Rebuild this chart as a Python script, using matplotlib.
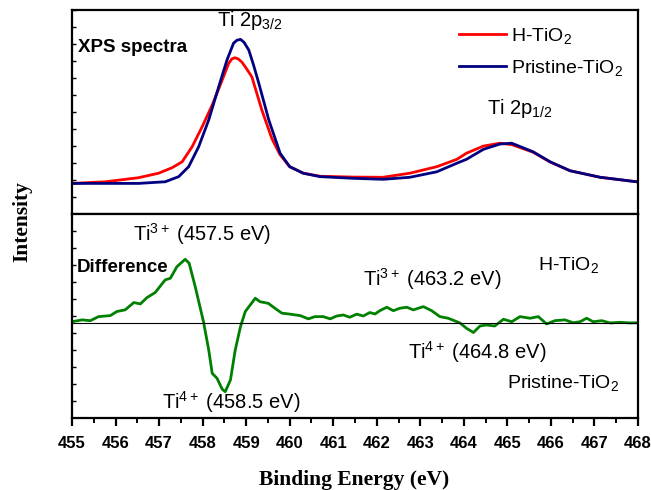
import matplotlib
matplotlib.use("Agg")
import matplotlib.pyplot as plt
from matplotlib.ticker import MultipleLocator

plt.rcParams['font.family'] = ['Liberation Sans', 'DejaVu Sans']
plt.rcParams['mathtext.fontset'] = 'custom'
plt.rcParams['mathtext.rm'] = 'Liberation Sans'
plt.rcParams['mathtext.it'] = 'Liberation Sans:italic'
plt.rcParams['mathtext.bf'] = 'Liberation Sans:bold'

# ---------------- data (arbitrary units) ----------------
e_red = [455.0, 455.77, 456.53, 456.99, 457.30, 457.53, 457.76, 457.99, 458.22,
         458.45, 458.60, 458.67, 458.74, 458.82, 458.90, 459.0, 459.13, 459.36,
         459.59, 459.78, 460.0, 460.31, 460.70, 461.45, 462.14, 462.76, 463.38,
         463.84, 464.06, 464.45, 464.83, 465.10, 465.59, 465.98, 466.44, 467.13,
         467.97]
i_red = [0.150, 0.158, 0.178, 0.200, 0.227, 0.256, 0.330, 0.428, 0.534,
         0.657, 0.739, 0.760, 0.766, 0.760, 0.745, 0.715, 0.673, 0.510,
         0.370, 0.290, 0.232, 0.200, 0.185, 0.181, 0.180, 0.200, 0.232,
         0.268, 0.298, 0.333, 0.347, 0.340, 0.303, 0.255, 0.212, 0.180,
         0.158]

e_blue = [455.0, 456.53, 457.14, 457.45, 457.68, 457.91, 458.14, 458.37, 458.56,
          458.71, 458.79, 458.87, 458.95, 459.06, 459.17, 459.29, 459.52, 459.78,
          460.0, 460.31, 460.70, 461.45, 462.14, 462.76, 463.38, 463.84, 464.06,
          464.45, 464.83, 465.10, 465.59, 465.98, 466.44, 467.13, 467.97]
i_blue = [0.150, 0.150, 0.158, 0.183, 0.232, 0.330, 0.461, 0.624, 0.755,
          0.837, 0.852, 0.856, 0.842, 0.804, 0.730, 0.641, 0.461, 0.298,
          0.232, 0.200, 0.183, 0.175, 0.170, 0.180, 0.207, 0.249, 0.268,
          0.317, 0.343, 0.347, 0.305, 0.256, 0.212, 0.180, 0.158]

e_diff = [455.0, 455.23, 455.42, 455.61, 455.88, 456.03, 456.22, 456.42, 456.57,
          456.72, 456.91, 457.14, 457.26, 457.41, 457.60, 457.69, 457.83, 458.02,
          458.14, 458.22, 458.33, 458.45, 458.52, 458.64, 458.75, 458.87, 458.98,
          459.21, 459.32, 459.51, 459.66, 459.82, 460.01, 460.24, 460.43, 460.58,
          460.77, 460.93, 461.08, 461.23, 461.38, 461.54, 461.69, 461.84, 461.96,
          462.07, 462.23, 462.38, 462.53, 462.69, 462.84, 463.07, 463.26, 463.45,
          463.64, 463.91, 464.06, 464.22, 464.37, 464.52, 464.71, 464.91, 465.10,
          465.29, 465.52, 465.71, 465.90, 466.09, 466.32, 466.51, 466.67, 466.82,
          466.97, 467.17, 467.36, 467.59, 467.82, 468.0]
i_diff = [0.006, 0.015, 0.011, 0.031, 0.036, 0.056, 0.064, 0.100, 0.093,
          0.124, 0.149, 0.211, 0.219, 0.276, 0.312, 0.293, 0.178, 0.006,
          -0.132, -0.247, -0.271, -0.325, -0.337, -0.279, -0.132, -0.018, 0.056,
          0.121, 0.104, 0.096, 0.072, 0.048, 0.043, 0.036, 0.020, 0.031,
          0.031, 0.020, 0.034, 0.039, 0.028, 0.043, 0.034, 0.051, 0.044,
          0.060, 0.077, 0.060, 0.072, 0.077, 0.064, 0.080, 0.060, 0.031,
          0.023, 0.000, -0.026, -0.047, -0.015, -0.010, -0.015, 0.018, 0.006,
          0.031, 0.023, 0.031, -0.005, 0.011, 0.015, 0.001, 0.006, 0.023,
          0.006, 0.011, 0.000, 0.003, 0.000, 0.001]

x_ticks = list(range(455, 469))
x_ticklabels = [str(v) for v in x_ticks]

# ---------------- figure ----------------
W, H = 651, 490
fig = plt.figure(figsize=(W / 100, H / 100), dpi=100)

def fx(px):
    return px / W

def fy(py):
    return 1 - py / H

left, right = fx(72), fx(638)
top, mid, bot = fy(10), fy(214), fy(418)

ax1 = fig.add_axes([left, mid, right - left, top - mid])
ax2 = fig.add_axes([left, bot, right - left, mid - bot])

lw_sp = 1.6
for ax in (ax1, ax2):
    ax.set_xlim(455, 468)
    for s in ax.spines.values():
        s.set_linewidth(lw_sp)

ax1.plot(e_red, i_red, color='#ff0000', lw=2.0, label='H-TiO$_2$')
ax1.plot(e_blue, i_blue, color='#000080', lw=2.0, label='Pristine-TiO$_2$')
ax1.set_ylim(0, 1)
ax1.set_xticks([])
ax1.yaxis.set_major_locator(MultipleLocator(1 / 12))
ax1.tick_params(axis='y', direction='in', length=3, width=1.0, labelleft=False)

ax2.plot(e_diff, i_diff, color='#008000', lw=2.0)
ax2.axhline(0, color='black', lw=0.8)
ax2.set_ylim(-0.466, 0.534)
ax2.set_yticks([-0.466 + k / 12 for k in range(1, 12)])
ax2.tick_params(axis='y', direction='in', length=3, width=1.0, labelleft=False)
ax2.set_xticks(x_ticks)
ax2.set_xticklabels(x_ticklabels)
ax2.xaxis.set_minor_locator(MultipleLocator(0.5))
ax2.tick_params(axis='x', which='major', direction='out', length=6, width=1.6, pad=7)
ax2.tick_params(axis='x', which='minor', direction='out', length=3.5, width=1.4)
for lab in ax2.get_xticklabels():
    lab.set_fontweight('bold')
    lab.set_fontsize(12)

leg = ax1.legend(loc='upper left', bbox_to_anchor=(fx(459), fy(26)),
                 bbox_transform=fig.transFigure, frameon=False, fontsize=14,
                 handlelength=2.4, handletextpad=0.25, labelspacing=0.6, borderaxespad=0,
                 borderpad=0)

fs = 14.5
fb = 13.5
fig.text(fx(78), fy(48), 'XPS spectra', fontsize=fb, fontweight='bold', va='center', ha='left')
fig.text(fx(250), fy(21), 'Ti 2p$_{3/2}$', fontsize=fs, va='center', ha='center')
fig.text(fx(520), fy(109), 'Ti 2p$_{1/2}$', fontsize=fs, va='center', ha='center')
fig.text(fx(133), fy(234), 'Ti$^{3+}$ (457.5 eV)', fontsize=fs, va='center', ha='left')
fig.text(fx(77), fy(268), 'Difference', fontsize=fb, fontweight='bold', va='center', ha='left')
fig.text(fx(363), fy(279), 'Ti$^{3+}$ (463.2 eV)', fontsize=fs, va='center', ha='left')
fig.text(fx(538), fy(265), 'H-TiO$_2$', fontsize=14, va='center', ha='left')
fig.text(fx(408), fy(352), 'Ti$^{4+}$ (464.8 eV)', fontsize=fs, va='center', ha='left')
fig.text(fx(507), fy(383), 'Pristine-TiO$_2$', fontsize=14, va='center', ha='left')
fig.text(fx(162), fy(402), 'Ti$^{4+}$ (458.5 eV)', fontsize=fs, va='center', ha='left')

fig.text(fx(354), fy(480), 'Binding Energy (eV)', fontsize=15.5, fontweight='bold',
         family=['Liberation Serif', 'DejaVu Serif'], ha='center', va='center')
fig.text(fx(22), fy(222), 'Intensity', fontsize=15.5, fontweight='bold', rotation=90,
         family=['Liberation Serif', 'DejaVu Serif'], ha='center', va='center')

fig.savefig('out.png', dpi=100)
